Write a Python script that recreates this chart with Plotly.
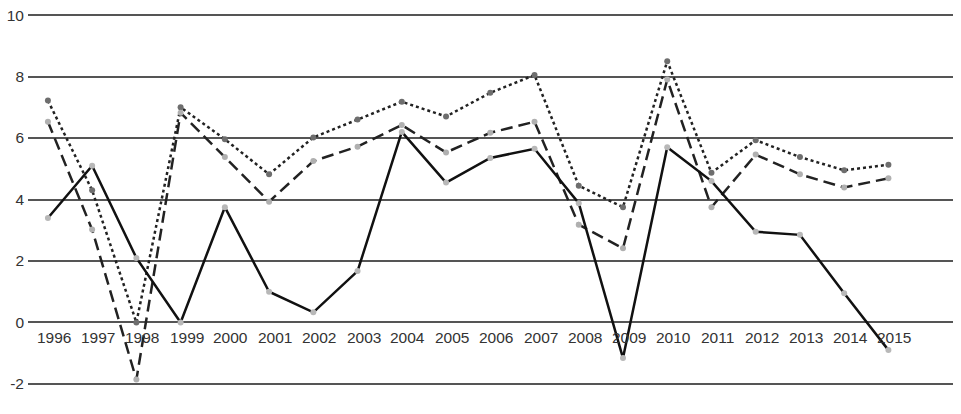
import plotly.graph_objects as go

years = list(range(1996, 2016))
year_labels = [str(y) for y in years]

solid_vals = [3.4, 5.1, 2.1, 0.0, 3.75, 1.0, 0.33, 1.67, 6.2, 4.55, 5.35, 5.65,
              3.88, -1.16, 5.7, 4.6, 2.95, 2.85, 0.95, -0.9]
dotted_vals = [7.22, 4.3, 0.0, 7.0, 5.96, 4.82, 6.02, 6.6, 7.18, 6.7, 7.47, 8.05,
               4.45, 3.75, 8.5, 4.87, 5.93, 5.38, 4.95, 5.13]
dashed_vals = [6.53, 3.02, -1.86, 6.82, 5.38, 3.93, 5.25, 5.72, 6.42, 5.53, 6.17, 6.53,
               3.18, 2.41, 7.9, 3.75, 5.46, 4.82, 4.39, 4.69]

y_ticks = [-2, 0, 2, 4, 6, 8, 10]
y_tick_labels = ["-2", "0", "2", "4", "6", "8", "10"]

FONT = "Liberation Sans, Arial"

fig = go.Figure()
fig.add_trace(go.Scatter(x=years, y=dotted_vals, mode="lines+markers",
                         line=dict(color="#222222", width=2.5, dash="3px,3px"),
                         marker=dict(color="#6e6e6e", size=6), showlegend=False))
fig.add_trace(go.Scatter(x=years, y=dashed_vals, mode="lines+markers",
                         line=dict(color="#222222", width=2.5, dash="12px,6px"),
                         marker=dict(color="#b0b0b0", size=6), showlegend=False))
fig.add_trace(go.Scatter(x=years, y=solid_vals, mode="lines+markers",
                         line=dict(color="#111111", width=2.5),
                         marker=dict(color="#b8b8b8", size=6), showlegend=False))

for y, lab in zip(years, year_labels):
    fig.add_annotation(x=y, y=0, text=lab, showarrow=False, xshift=6, yshift=-15,
                       yanchor="middle", xanchor="center",
                       font=dict(family=FONT, size=15.5, color="#333333"))

fig.update_layout(
    width=961, height=414,
    margin=dict(l=23, r=8, t=7, b=27),
    paper_bgcolor="white", plot_bgcolor="white",
    font=dict(family=FONT, size=15.5, color="#333333"),
    xaxis=dict(range=[1995.55, 2016.46], showgrid=False, zeroline=False,
               showticklabels=False, showline=False, ticks=""),
    yaxis=dict(range=[-2.1, 10.1], tickvals=y_ticks, ticktext=y_tick_labels,
               showgrid=True, gridcolor="#555555",
               gridwidth=2, zeroline=True, zerolinecolor="#555555", zerolinewidth=2,
               showline=False, ticks="", ticklabelstandoff=3),
)

fig.write_html("out.html")
